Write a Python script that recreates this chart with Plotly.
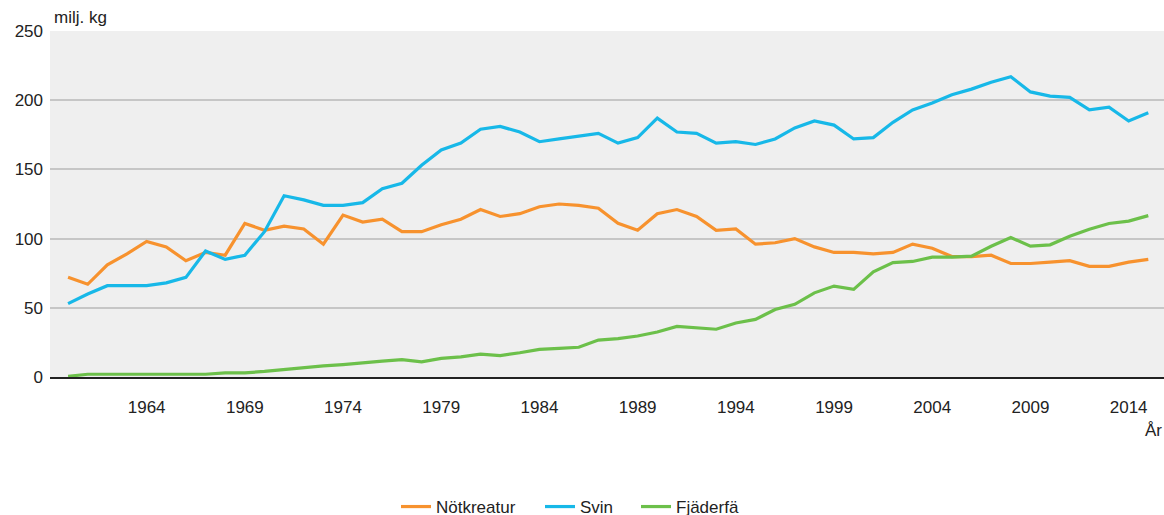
import plotly.graph_objects as go

years = list(range(1960, 2016))

notkreatur = [72, 67, 81, 89, 98, 94, 84, 90, 88, 111,
              106, 109, 107, 96, 117, 112, 114, 105, 105, 110,
              114, 121, 116, 118, 123, 125, 124, 122, 111, 106,
              118, 121, 116, 106, 107, 96, 97, 100, 94, 90,
              90, 89, 90, 96, 93, 87, 87, 88, 82, 82,
              83, 84, 80, 80, 83, 85]

svin = [53, 60, 66, 66, 66, 68, 72, 91, 85, 88,
        105, 131, 128, 124, 124, 126, 136, 140, 153, 164,
        169, 179, 181, 177, 170, 172, 174, 176, 169, 173,
        187, 177, 176, 169, 170, 168, 172, 180, 185, 182,
        172, 173, 184, 193, 198, 204, 208, 213, 217, 206,
        203, 202, 193, 195, 185, 191]

fjaderfa = [0.5, 2, 2, 2, 2, 2, 2, 2, 3, 3,
            4, 5.5, 7, 8, 9, 10.5, 11.5, 12.5, 11, 13.5,
            14.5, 16.5, 15.5, 17.5, 20, 20.7, 21.5, 26.7, 27.7, 29.6,
            32.5, 36.5, 35.5, 34.5, 39, 41.6, 48.8, 52.5, 60.8, 65.7,
            63.3, 76, 82.7, 83.5, 86.6, 86.6, 87.3, 94.5, 100.8, 94.5,
            95.5, 101.7, 106.8, 110.9, 112.6, 116.6]

series_names = ["Nötkreatur", "Svin", "Fjäderfä"]
series_colors = ["#f7922e", "#17b8e8", "#6cc04a"]

x_ticks = list(range(1964, 2015, 5))
y_ticks = [0, 50, 100, 150, 200, 250]

FONT = "Liberation Sans, Arial, sans-serif"
TXT = "#222222"

W, H = 1164, 515
ML, MR, MT, MB = 50, 0, 31, 138
PW = W - ML - MR
PH = H - MT - MB


def px_x(px):
    return (px - ML) / PW


def px_y(py):
    return (H - MB - py) / PH


fig = go.Figure()
legend_ids = ["legend", "legend2", "legend3"]
for name, vals, col, lid in zip(series_names, [notkreatur, svin, fjaderfa],
                                series_colors, legend_ids):
    fig.add_trace(go.Scatter(x=years, y=vals, name=name, mode="lines",
                             line=dict(color=col, width=3.2), legend=lid))

legend_left_px = [396, 540, 636]
leg_common = dict(orientation="h", xanchor="left", yanchor="middle",
                  y=px_y(507), font=dict(size=17, color=TXT),
                  bgcolor="rgba(0,0,0,0)")

fig.update_layout(
    width=W, height=H,
    margin=dict(l=ML, r=MR, t=MT, b=MB, autoexpand=False),
    paper_bgcolor="white",
    plot_bgcolor="#efefef",
    font=dict(family=FONT, size=17, color=TXT),
    showlegend=True,
    legend=dict(x=px_x(legend_left_px[0]), **leg_common),
    legend2=dict(x=px_x(legend_left_px[1]), **leg_common),
    legend3=dict(x=px_x(legend_left_px[2]), **leg_common),
    xaxis=dict(range=[1959.08, 2015.8], tickmode="array", tickvals=x_ticks,
               ticktext=[str(v) for v in x_ticks], showgrid=False, zeroline=False,
               showline=True, linecolor="#222222", linewidth=2, ticks="",
               ticklabelstandoff=14, tickfont=dict(size=17, color=TXT)),
    yaxis=dict(range=[0, 250], tickmode="array", tickvals=y_ticks,
               showgrid=True, gridcolor="#c6c6c6", gridwidth=1.5, zeroline=False,
               showline=False, ticks="", ticklabelstandoff=6,
               tickfont=dict(size=17, color=TXT)),
    annotations=[
        dict(text="milj. kg", xref="paper", yref="paper", x=0.0015, y=1.0,
             xanchor="left", yanchor="bottom", showarrow=False,
             font=dict(size=17, color=TXT), yshift=2),
        dict(text="År", xref="paper", yref="paper", x=1.0, y=px_y(430),
             xanchor="right", yanchor="middle", showarrow=False,
             font=dict(size=17, color=TXT)),
    ],
)

fig.write_html("out.html", config={"displayModeBar": False},
               post_script="document.body.style.margin='0';")
